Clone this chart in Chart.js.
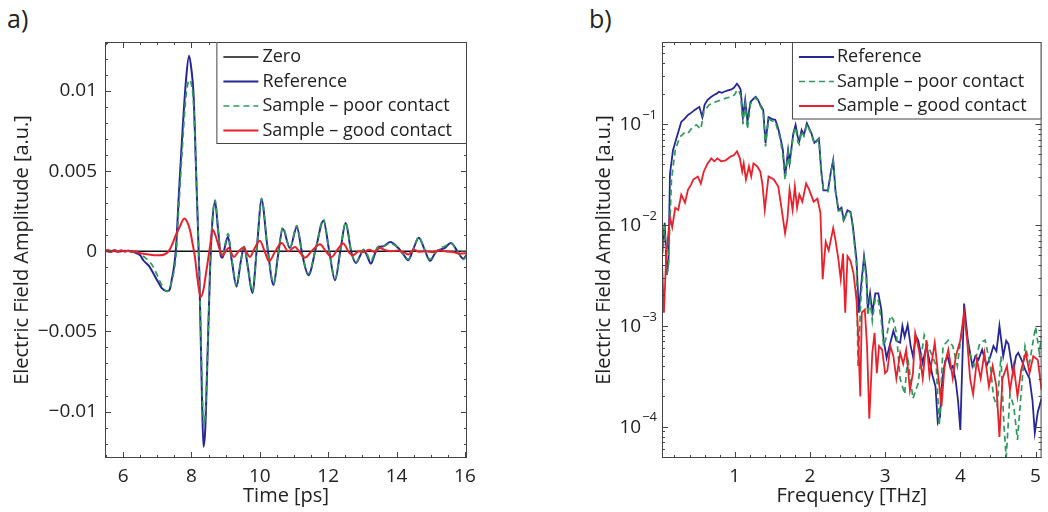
<!DOCTYPE html>
<html>
<head>
<meta charset="utf-8">
<script src="https://cdn.jsdelivr.net/npm/chart.js@4.4.1/dist/chart.umd.min.js"></script>
<style>
body { margin: 0; background: #fff; }
#wrap { position: relative; width: 1048px; height: 512px; overflow: hidden; font-family: "Open Sans", sans-serif; color: #222; }
.pane { position: absolute; top: 0; }
.tag { position: absolute; top: 1px; font-size: 25px; line-height: 34px; }
</style>
</head>
<body>
<div id="wrap">
  <div class="tag" style="left:7px">a)</div>
  <div class="tag" style="left:589px">b)</div>
  <canvas id="time" class="pane" style="left:0" width="490" height="512"></canvas>
  <canvas id="spec" class="pane" style="left:560px" width="488" height="512"></canvas>
</div>
<script>
// ---- a) time domain ----
const zeroTime  = [5.4, 16.2];
const zeroField = [0, 0];

const refTime  = [5.47, 5.6, 5.75, 5.9, 6.05, 6.2, 6.35, 6.5, 6.59, 6.75, 6.89, 7.02, 7.13, 7.28, 7.36, 7.42, 7.5, 7.55, 7.63, 7.72, 7.84, 7.93, 8.0, 8.06, 8.15, 8.23, 8.3, 8.35, 8.4, 8.45, 8.54, 8.6, 8.69, 8.78, 8.86, 8.91, 8.97, 9.07, 9.18, 9.32, 9.43, 9.54, 9.65, 9.78, 9.92, 10.05, 10.22, 10.4, 10.53, 10.67, 10.88, 11.08, 11.25, 11.42, 11.64, 11.86, 12.03, 12.2, 12.36, 12.51, 12.67, 12.81, 12.93, 13.03, 13.14, 13.25, 13.36, 13.47, 13.6, 13.81, 14.05, 14.2, 14.34, 14.5, 14.65, 14.82, 14.98, 15.13, 15.27, 15.4, 15.59, 15.78, 15.95, 16.06];
const refField = [0.00005, -0.00003, 0.00006, -0.00002, 0.00004, 0, -0.00008, -0.00025, -0.00056, -0.0009, -0.0014, -0.0019, -0.0023, -0.0025, -0.0024, -0.0018, -0.0008, 0.0003, 0.0035, 0.0069, 0.0107, 0.0122, 0.0113, 0.0098, 0.004, -0.0014, -0.0084, -0.0122, -0.0112, -0.008, -0.0014, 0.0015, 0.0031, 0.0013, -0.0003, -0.0004, 0.0002, 0.0009, -0.0006, -0.0022, -0.0008, 0.00027, -0.001, -0.0026, 0.0004, 0.0032, 0.0003, -0.0021, -0.0003, 0.0014, 0.0002, 0.0015, -0.0003, -0.0015, 0.0002, 0.0019, 0, -0.0018, 0.0001, 0.00177, 0, -0.00073, -0.0003, 0.0001, -0.0003, -0.00077, -0.0002, 0.00027, 0.0003, 0.00058, 0.0002, -0.0002, -0.00056, 0.0002, 0.00085, 0.0001, -0.0006, -0.0001, 0.0001, 0.0002, 0.00052, 0, -0.00046, -0.0002];

const poorTime  = [5.47, 5.6, 5.75, 5.9, 6.05, 6.2, 6.35, 6.5, 6.59, 6.75, 6.89, 7.02, 7.13, 7.28, 7.36, 7.42, 7.5, 7.55, 7.63, 7.72, 7.84, 7.95, 8.0, 8.06, 8.15, 8.23, 8.3, 8.36, 8.4, 8.45, 8.54, 8.6, 8.69, 8.78, 8.86, 8.91, 8.97, 9.07, 9.18, 9.32, 9.43, 9.54, 9.65, 9.78, 9.92, 10.05, 10.22, 10.4, 10.53, 10.67, 10.88, 11.08, 11.25, 11.42, 11.64, 11.86, 12.03, 12.2, 12.36, 12.51, 12.67, 12.81, 12.93, 13.03, 13.14, 13.25, 13.36, 13.47, 13.6, 13.81, 14.05, 14.2, 14.34, 14.5, 14.65, 14.82, 14.98, 15.13, 15.27, 15.4, 15.59, 15.78, 15.95, 16.06];
const poorField = [0.00003, 0.00006, -0.00003, 0.00005, -0.00002, 0.00003, -0.00002, -0.0001, -0.0003, -0.0006, -0.001, -0.0016, -0.0021, -0.0025, -0.0024, -0.0019, -0.0011, -0.0002, 0.0028, 0.006, 0.0097, 0.0107, 0.0104, 0.0092, 0.004, -0.0012, -0.0075, -0.0109, -0.0102, -0.0076, -0.0014, 0.0016, 0.0032, 0.0013, -0.0002, -0.0003, 0.0003, 0.0011, -0.0005, -0.0021, -0.0008, 0.0003, -0.001, -0.0025, 0.0004, 0.0033, 0.0003, -0.002, -0.0003, 0.0015, 0.0002, 0.0016, -0.0003, -0.0014, 0.0002, 0.002, 0, -0.0017, 0.0001, 0.0018, 0, -0.0007, -0.0003, 0.0001, -0.0002, -0.0006, -0.0001, 0.0003, 0.0003, 0.0005, 0.0002, -0.0002, -0.0005, 0.0002, 0.0009, 0.0001, -0.0005, -0.0001, 0.0002, 0.0003, 0.0005, 0, -0.0005, -0.0003];

const goodTime  = [5.47, 5.55, 5.65, 5.75, 5.85, 5.95, 6.05, 6.15, 6.25, 6.35, 6.45, 6.6, 6.75, 6.9, 7.05, 7.2, 7.33, 7.43, 7.52, 7.65, 7.79, 7.88, 7.96, 8.03, 8.1, 8.18, 8.27, 8.35, 8.43, 8.54, 8.62, 8.7, 8.79, 8.91, 9.0, 9.08, 9.24, 9.38, 9.52, 9.62, 9.71, 9.85, 10.0, 10.14, 10.27, 10.45, 10.64, 10.83, 11.03, 11.18, 11.32, 11.55, 11.76, 11.93, 12.1, 12.27, 12.44, 12.6, 12.72, 12.9, 13.03, 13.2, 13.36, 13.5, 13.7, 13.85, 14.05, 14.25, 14.34, 14.5, 14.65, 14.85, 15.05, 15.27, 15.45, 15.65, 15.85, 16.06];
const goodField = [0, 0.00008, -0.00005, 0.00006, -0.00004, 0.00007, -0.00003, 0.00005, -0.00005, 0, -0.0001, -0.00015, -0.0002, -0.00025, -0.00025, -0.0002, 0, 0.0004, 0.0009, 0.0015, 0.00204, 0.0018, 0.0013, 0.0005, -0.00035, -0.0018, -0.00285, -0.0024, -0.0013, 0.00027, 0.00135, 0.001, 0.00037, -0.0003, 0, 0.0002, -0.00035, 0, 0.00023, -0.0001, -0.00035, 0.0002, 0.00065, 0, -0.00062, 0, 0.00052, 0, 0.00027, -0.0001, -0.0004, 0.0001, 0.00044, 0, -0.00035, 0.0001, 0.00048, -0.00005, -0.00025, 0, -0.00005, 0.0001, -0.00005, 0.0002, 0.00005, 0, 0.00005, -0.0001, -0.0002, 0.0001, -0.00003, 0, -0.00005, 0.00005, -0.00002, -0.00005, -0.00015, -0.0001];

// ---- b) spectra ----
const refFreq = [0.035, 0.07, 0.1, 0.12, 0.14, 0.18, 0.23, 0.29, 0.33, 0.38, 0.42, 0.47, 0.53, 0.57, 0.6, 0.64, 0.69, 0.73, 0.76, 0.79, 0.83, 0.86, 0.9, 0.95, 0.99, 1.03, 1.06, 1.08, 1.11, 1.14, 1.17, 1.21, 1.25, 1.28, 1.31, 1.34, 1.38, 1.41, 1.45, 1.5, 1.54, 1.57, 1.6, 1.64, 1.67, 1.71, 1.73, 1.78, 1.81, 1.84, 1.86, 1.89, 1.92, 1.96, 2.02, 2.06, 2.12, 2.15, 2.18, 2.24, 2.28, 2.31, 2.34, 2.38, 2.42, 2.45, 2.5, 2.54, 2.57, 2.62, 2.65, 2.68, 2.72, 2.75, 2.77, 2.8, 2.83, 2.87, 2.91, 2.95, 2.98, 3.02, 3.07, 3.11, 3.15, 3.2, 3.23, 3.26, 3.3, 3.34, 3.37, 3.41, 3.44, 3.5, 3.55, 3.59, 3.63, 3.67, 3.7, 3.73, 3.76, 3.8, 3.83, 3.87, 3.9, 3.94, 3.97, 4.0, 4.05, 4.1, 4.16, 4.2, 4.24, 4.29, 4.35, 4.4, 4.44, 4.48, 4.52, 4.57, 4.61, 4.64, 4.7, 4.74, 4.77, 4.82, 4.86, 4.92, 4.96, 4.99, 5.03, 5.08];
const refAmp  = [5.0e-3, 1.05e-2, 3.2e-3, 4.5e-3, 3.2e-2, 5.5e-2, 7.4e-2, 0.105, 0.112, 0.123, 0.129, 0.138, 0.148, 0.117, 0.155, 0.174, 0.186, 0.195, 0.2, 0.209, 0.204, 0.209, 0.214, 0.219, 0.229, 0.251, 0.234, 0.219, 0.117, 0.174, 0.105, 0.166, 0.178, 0.186, 0.174, 0.155, 0.138, 0.065, 0.117, 0.112, 0.11, 0.095, 0.078, 0.056, 0.03, 0.055, 0.041, 0.081, 0.098, 0.074, 0.068, 0.087, 0.078, 0.102, 0.081, 0.065, 0.072, 0.035, 0.022, 0.022, 0.034, 0.044, 0.022, 0.014, 0.0148, 0.0112, 0.014, 0.0135, 0.01, 0.0045, 0.00135, 0.00245, 0.0049, 0.0033, 0.00145, 0.0021, 0.00135, 0.0021, 0.0021, 0.00145, 7.2e-4, 4.8e-4, 6.8e-4, 8.9e-4, 7.1e-4, 6.8e-4, 1.0e-3, 7.8e-4, 1.02e-3, 6.3e-4, 5.0e-4, 7.9e-4, 7.2e-4, 4.3e-4, 6.3e-4, 4.5e-4, 3.2e-4, 2.5e-4, 1.1e-4, 1.26e-4, 3.0e-4, 4.5e-4, 5.0e-4, 3.8e-4, 4.0e-4, 2.8e-4, 1.8e-4, 9.3e-5, 1.66e-3, 7.2e-4, 4.0e-4, 5.0e-4, 4.6e-4, 5.8e-4, 4.0e-4, 5.0e-4, 6.3e-4, 5.6e-4, 1.0e-3, 5.0e-4, 7.1e-4, 6.6e-4, 3.4e-4, 5.0e-4, 5.4e-4, 4.5e-4, 3.7e-4, 3.0e-4, 1.8e-4, 8.7e-5, 1.4e-4, 1.9e-4];

const poorFreq = [0.035, 0.07, 0.1, 0.12, 0.16, 0.21, 0.27, 0.34, 0.38, 0.43, 0.49, 0.55, 0.59, 0.66, 0.75, 0.82, 0.9, 0.97, 1.01, 1.03, 1.06, 1.08, 1.11, 1.14, 1.17, 1.21, 1.25, 1.28, 1.31, 1.34, 1.38, 1.41, 1.45, 1.5, 1.54, 1.57, 1.6, 1.64, 1.67, 1.71, 1.73, 1.78, 1.81, 1.84, 1.86, 1.89, 1.92, 1.96, 2.02, 2.06, 2.12, 2.15, 2.18, 2.24, 2.28, 2.31, 2.34, 2.38, 2.42, 2.45, 2.5, 2.54, 2.57, 2.62, 2.64, 2.68, 2.72, 2.75, 2.77, 2.8, 2.83, 2.87, 2.91, 2.95, 2.98, 3.02, 3.07, 3.11, 3.15, 3.2, 3.26, 3.3, 3.37, 3.44, 3.48, 3.52, 3.57, 3.63, 3.68, 3.72, 3.77, 3.84, 3.9, 3.96, 4.01, 4.05, 4.11, 4.18, 4.26, 4.33, 4.4, 4.44, 4.49, 4.54, 4.58, 4.61, 4.66, 4.71, 4.76, 4.8, 4.86, 4.92, 5.0, 5.05, 5.08];
const poorAmp  = [5.0e-3, 0.01, 3.2e-3, 4.0e-3, 0.0282, 0.055, 0.074, 0.083, 0.081, 0.091, 0.098, 0.089, 0.132, 0.155, 0.166, 0.174, 0.182, 0.186, 0.2, 0.219, 0.209, 0.191, 0.1, 0.158, 0.089, 0.158, 0.174, 0.182, 0.17, 0.151, 0.132, 0.06, 0.112, 0.107, 0.105, 0.089, 0.074, 0.05, 0.028, 0.052, 0.038, 0.079, 0.093, 0.066, 0.063, 0.085, 0.076, 0.1, 0.079, 0.063, 0.071, 0.033, 0.0224, 0.0214, 0.033, 0.0427, 0.0214, 0.0138, 0.0141, 0.0107, 0.0138, 0.0132, 0.0095, 0.004, 4.0e-4, 0.002, 0.0045, 0.003, 0.00126, 0.00178, 0.00112, 0.0019, 0.00178, 0.00112, 6.3e-4, 7.9e-4, 1.26e-3, 1.15e-3, 8.5e-4, 3.0e-4, 2.1e-4, 5.0e-4, 1.9e-4, 2.7e-4, 5.0e-4, 8.1e-4, 6.3e-4, 5.0e-4, 4.0e-4, 1.02e-4, 6.3e-4, 7.2e-4, 6.3e-4, 4.0e-4, 7.9e-4, 1.23e-3, 5.8e-4, 4.0e-4, 6.8e-4, 7.2e-4, 4.0e-4, 2.0e-4, 1.6e-4, 5.0e-4, 1.02e-4, 5.0e-5, 2.1e-4, 1.6e-4, 7.4e-5, 1.8e-4, 6.3e-4, 4.3e-4, 9.8e-4, 5.4e-4, 7.9e-4];

const goodFreq = [0.03, 0.04, 0.06, 0.09, 0.11, 0.14, 0.17, 0.21, 0.25, 0.29, 0.34, 0.38, 0.42, 0.45, 0.51, 0.55, 0.59, 0.64, 0.69, 0.73, 0.77, 0.82, 0.88, 0.95, 0.99, 1.03, 1.07, 1.1, 1.12, 1.15, 1.19, 1.22, 1.25, 1.3, 1.34, 1.37, 1.4, 1.45, 1.52, 1.58, 1.62, 1.67, 1.7, 1.73, 1.77, 1.8, 1.83, 1.86, 1.9, 1.95, 1.99, 2.05, 2.1, 2.14, 2.17, 2.21, 2.25, 2.31, 2.34, 2.38, 2.41, 2.44, 2.47, 2.5, 2.54, 2.58, 2.62, 2.64, 2.67, 2.69, 2.73, 2.76, 2.79, 2.83, 2.86, 2.89, 2.92, 2.96, 3.0, 3.03, 3.07, 3.11, 3.15, 3.2, 3.24, 3.28, 3.33, 3.37, 3.4, 3.45, 3.5, 3.55, 3.59, 3.66, 3.71, 3.75, 3.79, 3.84, 3.9, 3.94, 4.0, 4.05, 4.09, 4.13, 4.17, 4.22, 4.27, 4.32, 4.38, 4.43, 4.48, 4.52, 4.56, 4.62, 4.66, 4.71, 4.76, 4.81, 4.87, 4.92, 4.97, 5.03, 5.08];
const goodAmp  = [5.2e-3, 3.3e-3, 1.35e-3, 4.9e-3, 7.1e-3, 0.012, 0.0095, 0.0148, 0.0141, 0.02, 0.0166, 0.0224, 0.0251, 0.0282, 0.0302, 0.0257, 0.0339, 0.0407, 0.0457, 0.0427, 0.0457, 0.0427, 0.0437, 0.0479, 0.049, 0.0537, 0.0457, 0.0339, 0.0407, 0.0282, 0.038, 0.0302, 0.0407, 0.038, 0.0339, 0.0251, 0.0141, 0.0302, 0.0282, 0.024, 0.0151, 0.0083, 0.0112, 0.0224, 0.0141, 0.024, 0.0148, 0.02, 0.017, 0.0257, 0.0224, 0.017, 0.0182, 0.0132, 0.0029, 0.0068, 0.0056, 0.0093, 0.0071, 0.0045, 0.0029, 0.0052, 0.00135, 0.0049, 0.0044, 0.0033, 0.0018, 8.5e-4, 2.0e-4, 1.35e-3, 1.45e-3, 6.3e-4, 1.2e-4, 5.4e-4, 8.5e-4, 3.4e-4, 6.3e-4, 5.8e-4, 3.4e-4, 3.6e-4, 6.3e-4, 5.0e-4, 3.0e-4, 5.4e-4, 4.2e-4, 5.8e-4, 2.3e-4, 3.4e-4, 8.5e-4, 5.8e-4, 3.0e-4, 7.2e-4, 3.2e-4, 6.8e-4, 3.0e-4, 1.6e-4, 4.0e-4, 5.8e-4, 3.0e-4, 5.0e-4, 7.2e-4, 1.35e-3, 7.2e-4, 3.0e-4, 2.1e-4, 4.6e-4, 3.0e-4, 5.4e-4, 2.5e-4, 4.0e-4, 2.5e-4, 7.9e-5, 3.0e-4, 4.0e-4, 2.3e-4, 4.0e-4, 2.0e-4, 3.7e-4, 5.4e-4, 3.4e-4, 5.0e-4, 4.6e-4, 2.3e-4];

// tick labels
const timeTicks  = [6, 8, 10, 12, 14, 16];
const fieldTicks = [-0.01, -0.005, 0, 0.005, 0.01];
const freqTicks  = [1, 2, 3, 4, 5];
const ampDecades = [-4, -3, -2, -1];

const BLUE = '#262696', GREEN = '#2e9a5c', RED = '#e8212b', INK = '#222';
const FONT = '"Open Sans", sans-serif';

function pts(xs, ys) { return xs.map((x, i) => ({ x: x, y: ys[i] })); }
function range(a, b, step) { const out = []; for (let v = a; v <= b + 1e-9; v += step) out.push(+v.toFixed(6)); return out; }

// frame, inward ticks, legend and log labels
const boxPlugin = {
  id: 'box',
  afterDatasetsDraw(chart, args, o) {
    const { ctx, chartArea: a, scales: { x, y } } = chart;
    ctx.save();
    ctx.strokeStyle = '#444';
    ctx.lineWidth = 1;
    ctx.strokeRect(a.left + 0.5, a.top + 0.5, a.width - 1, a.height - 1);
    ctx.beginPath();
    const tx = (v, len) => {
      if (v < x.min || v > x.max) return;
      const p = Math.round(x.getPixelForValue(v)) + 0.5;
      ctx.moveTo(p, a.bottom); ctx.lineTo(p, a.bottom - len);
      ctx.moveTo(p, a.top); ctx.lineTo(p, a.top + len);
    };
    const ty = (v, len) => {
      if (v < y.min || v > y.max) return;
      const p = Math.round(y.getPixelForValue(v)) + 0.5;
      ctx.moveTo(a.left, p); ctx.lineTo(a.left + len, p);
      ctx.moveTo(a.right, p); ctx.lineTo(a.right - len, p);
    };
    o.xMajor.forEach(v => tx(v, 6));
    o.xMinor.forEach(v => tx(v, 3));
    o.yMajor.forEach(v => ty(v, 6));
    o.yMinor.forEach(v => ty(v, 3));
    ctx.stroke();

    if (o.logLabels) {
      ctx.fillStyle = INK;
      ctx.textBaseline = 'middle';
      ctx.textAlign = 'right';
      o.logLabels.forEach(e => {
        const p = y.getPixelForValue(Math.pow(10, e));
        const r = a.left - 5;
        ctx.font = '13px ' + FONT;
        const sup = '\u2212' + Math.abs(e);
        const sw = ctx.measureText(sup).width;
        ctx.fillText(sup, r, p - 9);
        ctx.font = '19px ' + FONT;
        ctx.fillText('10', r - sw - 1, p + 1);
      });
    }

    // legend box in the upper right corner
    ctx.font = '18px ' + FONT;
    ctx.textAlign = 'left';
    ctx.textBaseline = 'middle';
    const items = chart.data.datasets;
    const tw = Math.max(...items.map(d => ctx.measureText(d.label).width));
    const w = o.textGap + tw + 15, h = items.length * 24.5 + 4;
    const bx = a.right - w, by = a.top;
    ctx.fillStyle = '#fff';
    ctx.fillRect(bx, by, w, h);
    ctx.strokeStyle = '#444';
    ctx.lineWidth = 1;
    ctx.strokeRect(bx + 0.5, by + 0.5, w - 1, h - 1);
    items.forEach((d, i) => {
      const cy = by + 15 + i * 24.5;
      ctx.beginPath();
      ctx.setLineDash(d.borderDash || []);
      ctx.strokeStyle = d.borderColor;
      ctx.lineWidth = d.borderWidth;
      ctx.moveTo(bx + 7, cy); ctx.lineTo(bx + 42, cy);
      ctx.stroke();
      ctx.setLineDash([]);
      ctx.fillStyle = INK;
      ctx.fillText(d.label, bx + o.textGap, cy);
    });
    ctx.restore();
  }
};

function axisTitle(text, pad) {
  return { display: true, text: text, color: INK, font: { family: FONT, size: 20 }, padding: pad };
}

new Chart(document.getElementById('time'), {
  type: 'line',
  data: {
    datasets: [
      { label: 'Zero', data: pts(zeroTime, zeroField), borderColor: '#111', borderWidth: 1.6, order: 3 },
      { label: 'Reference', data: pts(refTime, refField), borderColor: BLUE, borderWidth: 2, order: 2 },
      { label: 'Sample \u2013 poor contact', data: pts(poorTime, poorField), borderColor: GREEN, borderWidth: 1.7, borderDash: [6, 4], order: 1 },
      { label: 'Sample \u2013 good contact', data: pts(goodTime, goodField), borderColor: RED, borderWidth: 2, order: 0 }
    ]
  },
  options: {
    responsive: false, animation: false, devicePixelRatio: 1, events: [],
    layout: { padding: { top: 42, right: 23, bottom: 0, left: 0 } },
    elements: { point: { radius: 0 }, line: { cubicInterpolationMode: 'monotone' } },
    scales: {
      x: {
        type: 'linear', min: 5.47, max: 16.06,
        grid: { display: false, drawTicks: false }, border: { display: false },
        afterBuildTicks: s => { s.ticks = timeTicks.map(v => ({ value: v })); },
        afterFit: s => { s.height = 54; },
        ticks: { color: INK, font: { family: FONT, size: 19 }, padding: 7, maxRotation: 0 },
        title: axisTitle('Time [ps]', { top: 0, bottom: 4 })
      },
      y: {
        type: 'linear', min: -0.0129, max: 0.01306,
        grid: { display: false, drawTicks: false }, border: { display: false },
        afterBuildTicks: s => { s.ticks = fieldTicks.map(v => ({ value: v })); },
        afterFit: s => { s.width = 105; },
        ticks: {
          color: INK, font: { family: FONT, size: 19 }, padding: 8,
          callback: v => (v < 0 ? '\u2212' : '') + String(Math.abs(+(+v).toFixed(4)))
        },
        title: axisTitle('Electric Field Amplitude [a.u.]', { top: 10, bottom: 0 })
      }
    },
    plugins: {
      legend: { display: false }, tooltip: { enabled: false },
      box: { xMajor: timeTicks, xMinor: range(5.5, 16, 0.5), yMajor: fieldTicks, yMinor: range(-0.012, 0.013, 0.001), textGap: 46 }
    }
  },
  plugins: [boxPlugin]
});

const logMinor = [];
[-5, -4, -3, -2, -1].forEach(e => { for (let m = 2; m <= 9; m++) logMinor.push(m * Math.pow(10, e)); });

new Chart(document.getElementById('spec'), {
  type: 'line',
  data: {
    datasets: [
      { label: 'Reference', data: pts(refFreq, refAmp), borderColor: BLUE, borderWidth: 1.8, order: 2 },
      { label: 'Sample \u2013 poor contact', data: pts(poorFreq, poorAmp), borderColor: GREEN, borderWidth: 1.7, borderDash: [6, 4], order: 1 },
      { label: 'Sample \u2013 good contact', data: pts(goodFreq, goodAmp), borderColor: RED, borderWidth: 1.8, order: 0 }
    ]
  },
  options: {
    responsive: false, animation: false, devicePixelRatio: 1, events: [],
    layout: { padding: { top: 42, right: 1, bottom: 0, left: 0 } },
    elements: { point: { radius: 0 }, line: { tension: 0 } },
    scales: {
      x: {
        type: 'linear', min: 0.034, max: 5.08,
        grid: { display: false, drawTicks: false }, border: { display: false },
        afterBuildTicks: s => { s.ticks = freqTicks.map(v => ({ value: v })); },
        afterFit: s => { s.height = 54; },
        ticks: { color: INK, font: { family: FONT, size: 19 }, padding: 7, maxRotation: 0 },
        title: axisTitle('Frequency [THz]', { top: 0, bottom: 4 })
      },
      y: {
        type: 'logarithmic', min: 4.9e-5, max: 0.65,
        grid: { display: false, drawTicks: false }, border: { display: false },
        afterFit: s => { s.width = 102; },
        ticks: { display: false },
        title: axisTitle('Electric Field Amplitude [a.u.]', { top: 32, bottom: 0 })
      }
    },
    plugins: {
      legend: { display: false }, tooltip: { enabled: false },
      box: { xMajor: freqTicks, xMinor: range(0.2, 5, 0.2), yMajor: ampDecades.map(e => Math.pow(10, e)), yMinor: logMinor, logLabels: ampDecades, textGap: 45 }
    }
  },
  plugins: [boxPlugin]
});
</script>
</body>
</html>
